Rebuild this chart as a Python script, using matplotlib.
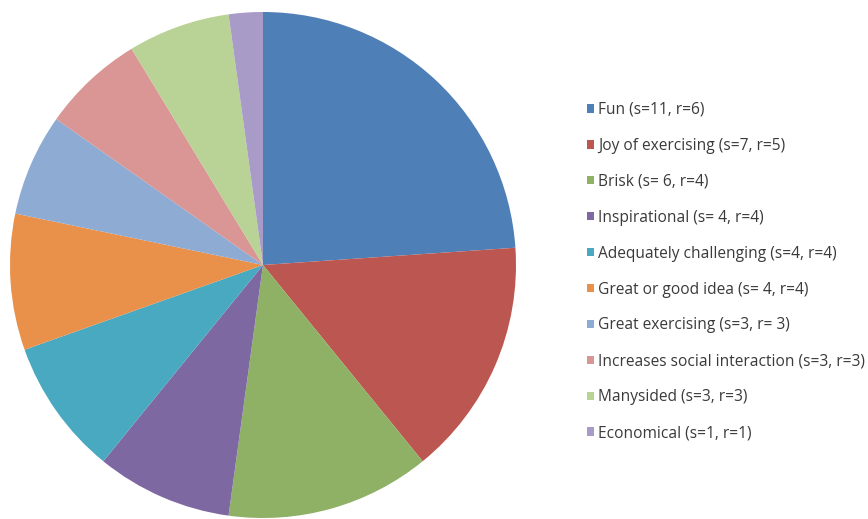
import matplotlib
matplotlib.use('Agg')
import matplotlib.pyplot as plt

labels = ['Fun (s=11, r=6)', 'Joy of exercising (s=7, r=5)', 'Brisk (s= 6, r=4)',
          'Inspirational (s= 4, r=4)', 'Adequately challenging (s=4, r=4)',
          'Great or good idea (s= 4, r=4)', 'Great exercising (s=3, r= 3)',
          'Increases social interaction (s=3, r=3)', 'Manysided (s=3, r=3)',
          'Economical (s=1, r=1)']
values = [11, 7, 6, 4, 4, 4, 3, 3, 3, 1]
colors = ['#4E7FB6', '#BC5650', '#8FB165', '#7E68A2', '#49A9C0', '#E9914B',
          '#8EABD3', '#D99694', '#B9D295', '#A99BC8']

plt.rcParams['font.family'] = ['Open Sans', 'DejaVu Sans']

W, H = 868, 519
fig = plt.figure(figsize=(W / 100, H / 100), dpi=100)

cx, cy, r = 263, 265, 253
ax = fig.add_axes([(cx - r) / W, (H - cy - r) / H, 2 * r / W, 2 * r / H])
wedges, _ = ax.pie(values, colors=colors, startangle=90, counterclock=False,
                   wedgeprops=dict(linewidth=0))
ax.set_xlim(-1, 1)
ax.set_ylim(-1, 1)
ax.set_aspect('equal')
ax.axis('off')

leg = fig.legend(wedges, labels, loc='upper left', bbox_to_anchor=(587 / W, 1 - 102 / H),
                 frameon=False, fontsize=11.2, handlelength=0.45, handleheight=0.45,
                 handletextpad=0.25, labelspacing=1.28, borderpad=0, borderaxespad=0)
for t in leg.get_texts():
    t.set_color('#3A3A3A')

fig.savefig('out.png', dpi=100)
